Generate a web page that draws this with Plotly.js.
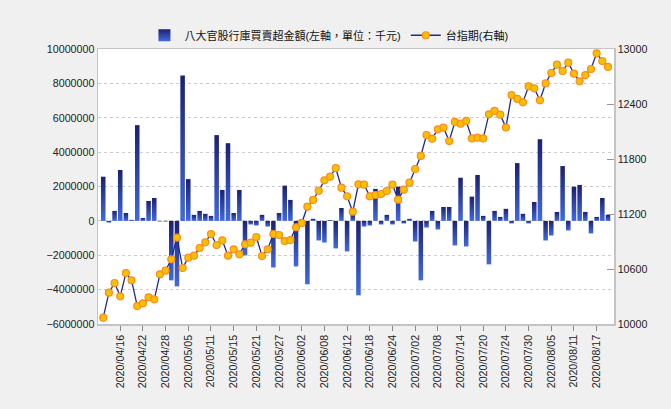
<!DOCTYPE html>
<html>
<head>
<meta charset="utf-8">
<script src="https://cdn.plot.ly/plotly-3.0.1.min.js"></script>
<style>
  body { margin: 0; background: #f0f0f0; }
  #chart { width: 671px; height: 409px; }
</style>
</head>
<body>
<div id="chart"></div>
<script>
// trading days shown on the x axis
var dates = [
  '2020/04/13','2020/04/14','2020/04/15','2020/04/16','2020/04/17','2020/04/20','2020/04/21','2020/04/22','2020/04/23','2020/04/24','2020/04/27','2020/04/28','2020/04/29','2020/04/30',
  '2020/05/04','2020/05/05','2020/05/06','2020/05/07','2020/05/08','2020/05/11','2020/05/12','2020/05/13','2020/05/14','2020/05/15','2020/05/18','2020/05/19','2020/05/20','2020/05/21','2020/05/22','2020/05/25','2020/05/26','2020/05/27','2020/05/28','2020/05/29',
  '2020/06/01','2020/06/02','2020/06/03','2020/06/04','2020/06/05','2020/06/08','2020/06/09','2020/06/10','2020/06/11','2020/06/12','2020/06/15','2020/06/16','2020/06/17','2020/06/18','2020/06/19','2020/06/22','2020/06/23','2020/06/24','2020/06/29','2020/06/30',
  '2020/07/01','2020/07/02','2020/07/03','2020/07/06','2020/07/07','2020/07/08','2020/07/09','2020/07/10','2020/07/13','2020/07/14','2020/07/15','2020/07/16','2020/07/17','2020/07/20','2020/07/21','2020/07/22','2020/07/23','2020/07/24','2020/07/27','2020/07/28','2020/07/29','2020/07/30','2020/07/31',
  '2020/08/03','2020/08/04','2020/08/05','2020/08/06','2020/08/07','2020/08/10','2020/08/11','2020/08/12','2020/08/13','2020/08/14','2020/08/17','2020/08/18','2020/08/19'
];

// 八大官股行庫買賣超金額 (千元)
var netBuy = [
  2570000, -100000, 580000, 2960000, 460000, 60000, 5570000, 170000, 1160000, 1330000, -40000, -40000, -3460000, -3810000,
  8460000, 2430000, 350000, 580000, 410000, 290000, 4990000, 1800000, 4520000, 460000, 1800000, -2010000, -210000, -270000, 350000, -330000, -2710000, 460000, 2050000, 1220000,
  -2650000, 100000, -3690000, 120000, -1140000, -1260000, 50000, -1600000, 750000, -1780000, 350000, -4330000, -330000, -270000, 1860000, -210000, 350000, -210000, 1990000, -150000,
  120000, -1200000, -3460000, -390000, 580000, -500000, 810000, 810000, -1430000, 2510000, -1490000, 1410000, 2670000, 290000, -2530000, 580000, 230000, 700000, -150000, 3360000, 410000, -150000, 1100000,
  4750000, -1140000, -850000, 520000, 3190000, -560000, 1990000, 2090000, 520000, -730000, 230000, 1330000, 350000
];

// 台指期
var futures = [
  10069, 10342, 10447, 10302, 10556, 10476, 10196, 10225, 10291, 10269, 10542, 10582, 10705, 10942,
  10611, 10724, 10745, 10829, 10891, 10982, 10862, 10913, 10745, 10815, 10760, 10869, 10887, 10949, 10742, 10815, 10982, 10971, 10905, 10916,
  11055, 11102, 11280, 11353, 11454, 11567, 11607, 11702, 11487, 11393, 11225, 11524, 11520, 11393, 11407, 11418, 11451, 11520, 11356, 11465,
  11542, 11691, 11833, 12062, 12022, 12124, 12142, 11996, 12204, 12185, 12215, 12025, 12033, 12025, 12287, 12324, 12284, 12145, 12498, 12455, 12418, 12593, 12571,
  12440, 12625, 12738, 12829, 12760, 12851, 12731, 12647, 12716, 12782, 12953, 12869, 12804
];

var tickDates = [
  '2020/04/16','2020/04/22','2020/04/28','2020/05/05','2020/05/11','2020/05/15','2020/05/21','2020/05/27',
  '2020/06/02','2020/06/08','2020/06/12','2020/06/18','2020/06/24','2020/07/02','2020/07/08','2020/07/14',
  '2020/07/20','2020/07/24','2020/07/30','2020/08/05','2020/08/11','2020/08/17'
];

var FONT = 'Liberation Sans, Noto Sans CJK TC, sans-serif';
var AXIS_GREY = '#c4c4c4';

var barTrace = {
  type: 'bar',
  name: '八大官股行庫買賣超金額(左軸，單位：千元)',
  x: dates,
  y: netBuy,
  marker: { color: '#2d3fa6', line: { width: 0 } },
  hoverinfo: 'x+y'
};

var lineTrace = {
  type: 'scatter',
  mode: 'lines+markers',
  name: '台指期(右軸)',
  x: dates,
  y: futures,
  yaxis: 'y2',
  line: { color: '#1f2a8a', width: 1.3 },
  marker: { size: 7, color: '#f2c200', line: { color: '#ff8a1c', width: 1.2 } },
  hoverinfo: 'x+y'
};

var layout = {
  width: 671,
  height: 409,
  margin: { l: 98, r: 57, t: 49, b: 85 },
  paper_bgcolor: '#f0f0f0',
  plot_bgcolor: '#ffffff',
  font: { family: FONT, size: 10.7, color: '#222' },
  bargap: 0.2,
  showlegend: true,
  legend: {
    orientation: 'h',
    x: 0.09, xanchor: 'left',
    y: 1.05, yanchor: 'middle',
    bgcolor: 'rgba(0,0,0,0)',
    font: { family: FONT, size: 11, color: '#111' },
    itemwidth: 30,
    traceorder: 'normal'
  },
  xaxis: {
    type: 'category',
    range: [-0.92, 90.06],
    tickvals: tickDates,
    ticktext: tickDates,
    tickangle: -90,
    ticks: 'outside',
    ticklen: 5,
    tickcolor: '#888',
    showgrid: false,
    showline: true,
    linecolor: AXIS_GREY,
    linewidth: 1.5,
    mirror: true,
    fixedrange: true
  },
  yaxis: {
    range: [-6000000, 10000000],
    dtick: 2000000,
    tickformat: 'd',
    ticks: '',
    showgrid: true,
    gridcolor: '#cccccc',
    gridwidth: 1,
    griddash: 'dot',
    zeroline: false,
    showline: true,
    linecolor: AXIS_GREY,
    linewidth: 1.5,
    fixedrange: true
  },
  yaxis2: {
    overlaying: 'y',
    side: 'right',
    range: [10000, 13000],
    tick0: 10000,
    dtick: 600,
    tickformat: 'd',
    ticks: 'inside',
    ticklen: 7,
    tickcolor: '#999',
    showgrid: false,
    zeroline: false,
    showline: true,
    linecolor: AXIS_GREY,
    linewidth: 1.5,
    fixedrange: true
  }
};

// bars get a vertical navy -> royal blue gradient, like the original
function paintGradient(gd) {
  var svg = gd.querySelector('svg.main-svg');
  var defs = svg.querySelector('defs');
  var ns = 'http://www.w3.org/2000/svg';
  var grad = document.createElementNS(ns, 'linearGradient');
  grad.setAttribute('id', 'barGrad');
  grad.setAttribute('x1', '0'); grad.setAttribute('y1', '0');
  grad.setAttribute('x2', '0'); grad.setAttribute('y2', '1');
  [['0', '#1b2170'], ['1', '#4169e1']].forEach(function (s) {
    var stop = document.createElementNS(ns, 'stop');
    stop.setAttribute('offset', s[0]);
    stop.setAttribute('stop-color', s[1]);
    grad.appendChild(stop);
  });
  defs.appendChild(grad);

  gd.querySelectorAll('.barlayer .point path').forEach(function (p) {
    p.style.fill = 'url(#barGrad)';
  });
  var first = gd.querySelectorAll('.legend .traces')[0];
  if (first) {
    first.querySelectorAll('.legendpoints path').forEach(function (p) {
      p.style.fill = 'url(#barGrad)';
    });
  }
}

Plotly.newPlot('chart', [barTrace, lineTrace], layout, { displayModeBar: false, staticPlot: true })
  .then(paintGradient);
</script>
</body>
</html>
